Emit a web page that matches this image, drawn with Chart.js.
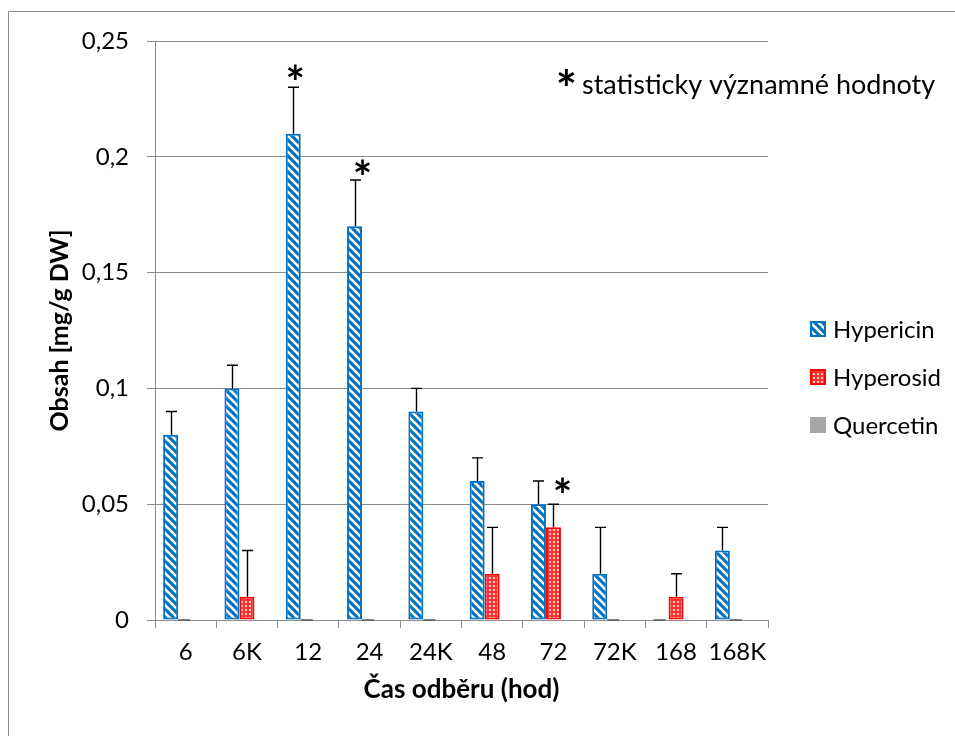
<!DOCTYPE html>
<html><head><meta charset="utf-8">
<script src="https://cdn.jsdelivr.net/npm/chart.js@4.4.0/dist/chart.umd.min.js"></script>
<style>html,body{margin:0;padding:0;background:#fff;}#wrap{width:955px;height:736px;}</style>
</head><body><div id="wrap"><canvas id="c" width="955" height="736"></canvas></div>
<script>
// ---------- data ----------
const categories = ['6','6K','12','24','24K','48','72','72K','168','168K'];
const seriesNames = ['Hypericin','Hyperosid','Quercetin'];
const hypericin = [0.08,0.10,0.21,0.17,0.09,0.06,0.05,0.02,0,0.03];
const hyperosid = [0,0.01,0,0,0,0.02,0.04,0,0.01,0];
const quercetin = [0,0,0,0,0,0,0,0,0,0];
const hypericinErr = [0.01,0.01,0.02,0.02,0.01,0.01,0.01,0.02,null,0.01];
const hyperosidErr = [null,0.02,null,null,null,0.02,0.01,null,0.01,null];
const quercetinErr = [null,null,null,null,null,null,null,null,null,null];
const yTickValues = [0,0.05,0.1,0.15,0.2,0.25];
const yTickLabels = ['0','0,05','0,1','0,15','0,2','0,25'];
const sigCategories = ['12','24','72'];
const sigSeries = [0,0,1];
const sigValues = [0.23,0.19,0.05];
const noteText = 'statisticky významné hodnoty';
const xTitle = 'Čas odběru (hod)';
const yTitle = 'Obsah [mg/g DW]';

// ---------- styles ----------
const FONT = 'Lato';
const BLUE = '#0070C0', RED = '#FF0000', GREY = '#A6A6A6', AXIS = '#8C8C8C';
const sigOffsets = [[2,-15],[8,-13],[9,-19]];

function stripePattern(){
  const c = document.createElement('canvas'); c.width = 8; c.height = 8;
  const g = c.getContext('2d');
  g.fillStyle = BLUE; g.fillRect(0,0,8,8);
  g.strokeStyle = '#fff'; g.lineWidth = 2.6;
  for (let k=-2;k<=2;k++){ g.beginPath(); g.moveTo(-8, -8 + k*8); g.lineTo(16, 16 + k*8); g.stroke(); }
  return g.createPattern(c,'repeat');
}
function dotPattern(){
  const c = document.createElement('canvas'); c.width = 4; c.height = 4;
  const g = c.getContext('2d');
  g.fillStyle = '#FF3030'; g.fillRect(0,0,4,4);
  g.fillStyle = '#FFD0D0'; g.fillRect(1,1,2,2);
  return g.createPattern(c,'repeat');
}
const fills = [stripePattern(), dotPattern(), GREY];
const borders = [BLUE, RED, GREY];
const borderWidths = [2,2,0];
const seriesData = [hypericin, hyperosid, quercetin];
const seriesErr = [hypericinErr, hyperosidErr, quercetinErr];

function drawStar(ctx, size, cx, cy){
  ctx.font = 'bold ' + size + 'px ' + FONT;
  ctx.textAlign = 'center'; ctx.textBaseline = 'alphabetic';
  const m = ctx.measureText('*');
  ctx.fillText('*', cx, cy + (m.actualBoundingBoxAscent - m.actualBoundingBoxDescent)/2);
}

const decorPlugin = {
  id: 'decor',
  beforeDraw(chart){
    const ctx = chart.ctx;
    ctx.save();
    ctx.fillStyle = '#fff'; ctx.fillRect(0,0,chart.width,chart.height);
    ctx.strokeStyle = '#8C8C8C'; ctx.lineWidth = 1;
    ctx.beginPath(); ctx.moveTo(8.5, chart.height); ctx.lineTo(8.5, 11.5); ctx.lineTo(chart.width, 11.5); ctx.stroke();
    ctx.restore();
  },
  afterDatasetsDraw(chart){
    const ctx = chart.ctx, ys = chart.scales.y;
    ctx.save();
    [0,1].forEach(di => {
      const meta = chart.getDatasetMeta(di);
      meta.data.forEach((el,j) => {
        if (seriesData[di][j] === 0){
          ctx.strokeStyle = '#595959'; ctx.lineWidth = 1.5;
          ctx.beginPath(); ctx.moveTo(el.x - el.width/2, ys.getPixelForValue(0)); ctx.lineTo(el.x + el.width/2 - 3, ys.getPixelForValue(0)); ctx.stroke();
        }
      });
    });
    ctx.strokeStyle = '#000'; ctx.lineWidth = 1.4;
    seriesErr.forEach((errs,di) => {
      const meta = chart.getDatasetMeta(di);
      meta.data.forEach((el,j) => {
        const e = errs[j];
        if (e == null) return;
        const x = Math.round(el.x) + 0.5;
        const yTop = ys.getPixelForValue(seriesData[di][j] + e);
        const yBar = ys.getPixelForValue(seriesData[di][j]);
        ctx.beginPath(); ctx.moveTo(x, yBar); ctx.lineTo(x, yTop);
        ctx.moveTo(x - 5.5, yTop); ctx.lineTo(x + 5.5, yTop); ctx.stroke();
      });
    });
    ctx.fillStyle = '#000';
    sigCategories.forEach((cat,k) => {
      const j = categories.indexOf(cat);
      const el = chart.getDatasetMeta(sigSeries[k]).data[j];
      drawStar(ctx, 46, el.x + sigOffsets[k][0], ys.getPixelForValue(sigValues[k]) + sigOffsets[k][1]);
    });
    drawStar(ctx, 50, 566.5, 77);
    ctx.textAlign = 'left'; ctx.textBaseline = 'alphabetic';
    ctx.font = '27px ' + FONT;
    ctx.fillText(noteText, 582, 94);
    const ly = [329, 377, 425];
    ctx.font = '24px ' + FONT;
    ctx.textBaseline = 'middle';
    seriesNames.forEach((name,i) => {
      ctx.fillStyle = fills[i];
      ctx.fillRect(810, ly[i]-8, 16, 16);
      if (borderWidths[i]) { ctx.strokeStyle = borders[i]; ctx.lineWidth = 2; ctx.strokeRect(811, ly[i]-7, 14, 14); }
      ctx.fillStyle = '#000';
      ctx.fillText(name, 833, ly[i]+1);
    });
    ctx.restore();
  }
};

new Chart(document.getElementById('c'), {
  type: 'bar',
  data: {
    labels: categories,
    datasets: seriesNames.map((name,i) => ({
      label: name, data: seriesData[i], backgroundColor: fills[i], borderColor: borders[i],
      borderWidth: borderWidths[i], borderSkipped: false, barPercentage: 1, categoryPercentage: 0.734
    }))
  },
  options: {
    responsive: false, animation: false, devicePixelRatio: 1,
    layout: { padding: { left: 0, right: 187, top: 41, bottom: 0 } },
    plugins: { legend: { display: false }, tooltip: { enabled: false } },
    scales: {
      x: {
        offset: true,
        grid: { display: true, drawOnChartArea: false, drawTicks: true, tickLength: 8, color: AXIS, offset: true },
        border: { color: AXIS, width: 1 },
        ticks: { color: '#000', font: { family: FONT, size: 24 }, padding: 10, maxRotation: 0, autoSkip: false },
        title: { display: true, text: xTitle, color: '#000', font: { family: FONT, size: 26, weight: 'bold' }, padding: { top: 0, bottom: 31 } },
        afterFit: s => { s.height = 116; }
      },
      y: {
        min: 0, max: 0.25,
        afterBuildTicks: s => { s.ticks = yTickValues.map(v => ({ value: v })); },
        grid: { color: AXIS, tickLength: 8 },
        border: { color: AXIS, width: 1 },
        ticks: { color: '#000', font: { family: FONT, size: 24 }, padding: 18,
          callback: v => yTickLabels[yTickValues.findIndex(t => Math.abs(t - v) < 1e-9)] },
        title: { display: true, text: yTitle, color: '#000', font: { family: FONT, size: 25, weight: 'bold' }, padding: { top: 45, bottom: 0 } },
        afterFit: s => { s.width = 155; }
      }
    }
  },
  plugins: [decorPlugin]
});
</script></body></html>
